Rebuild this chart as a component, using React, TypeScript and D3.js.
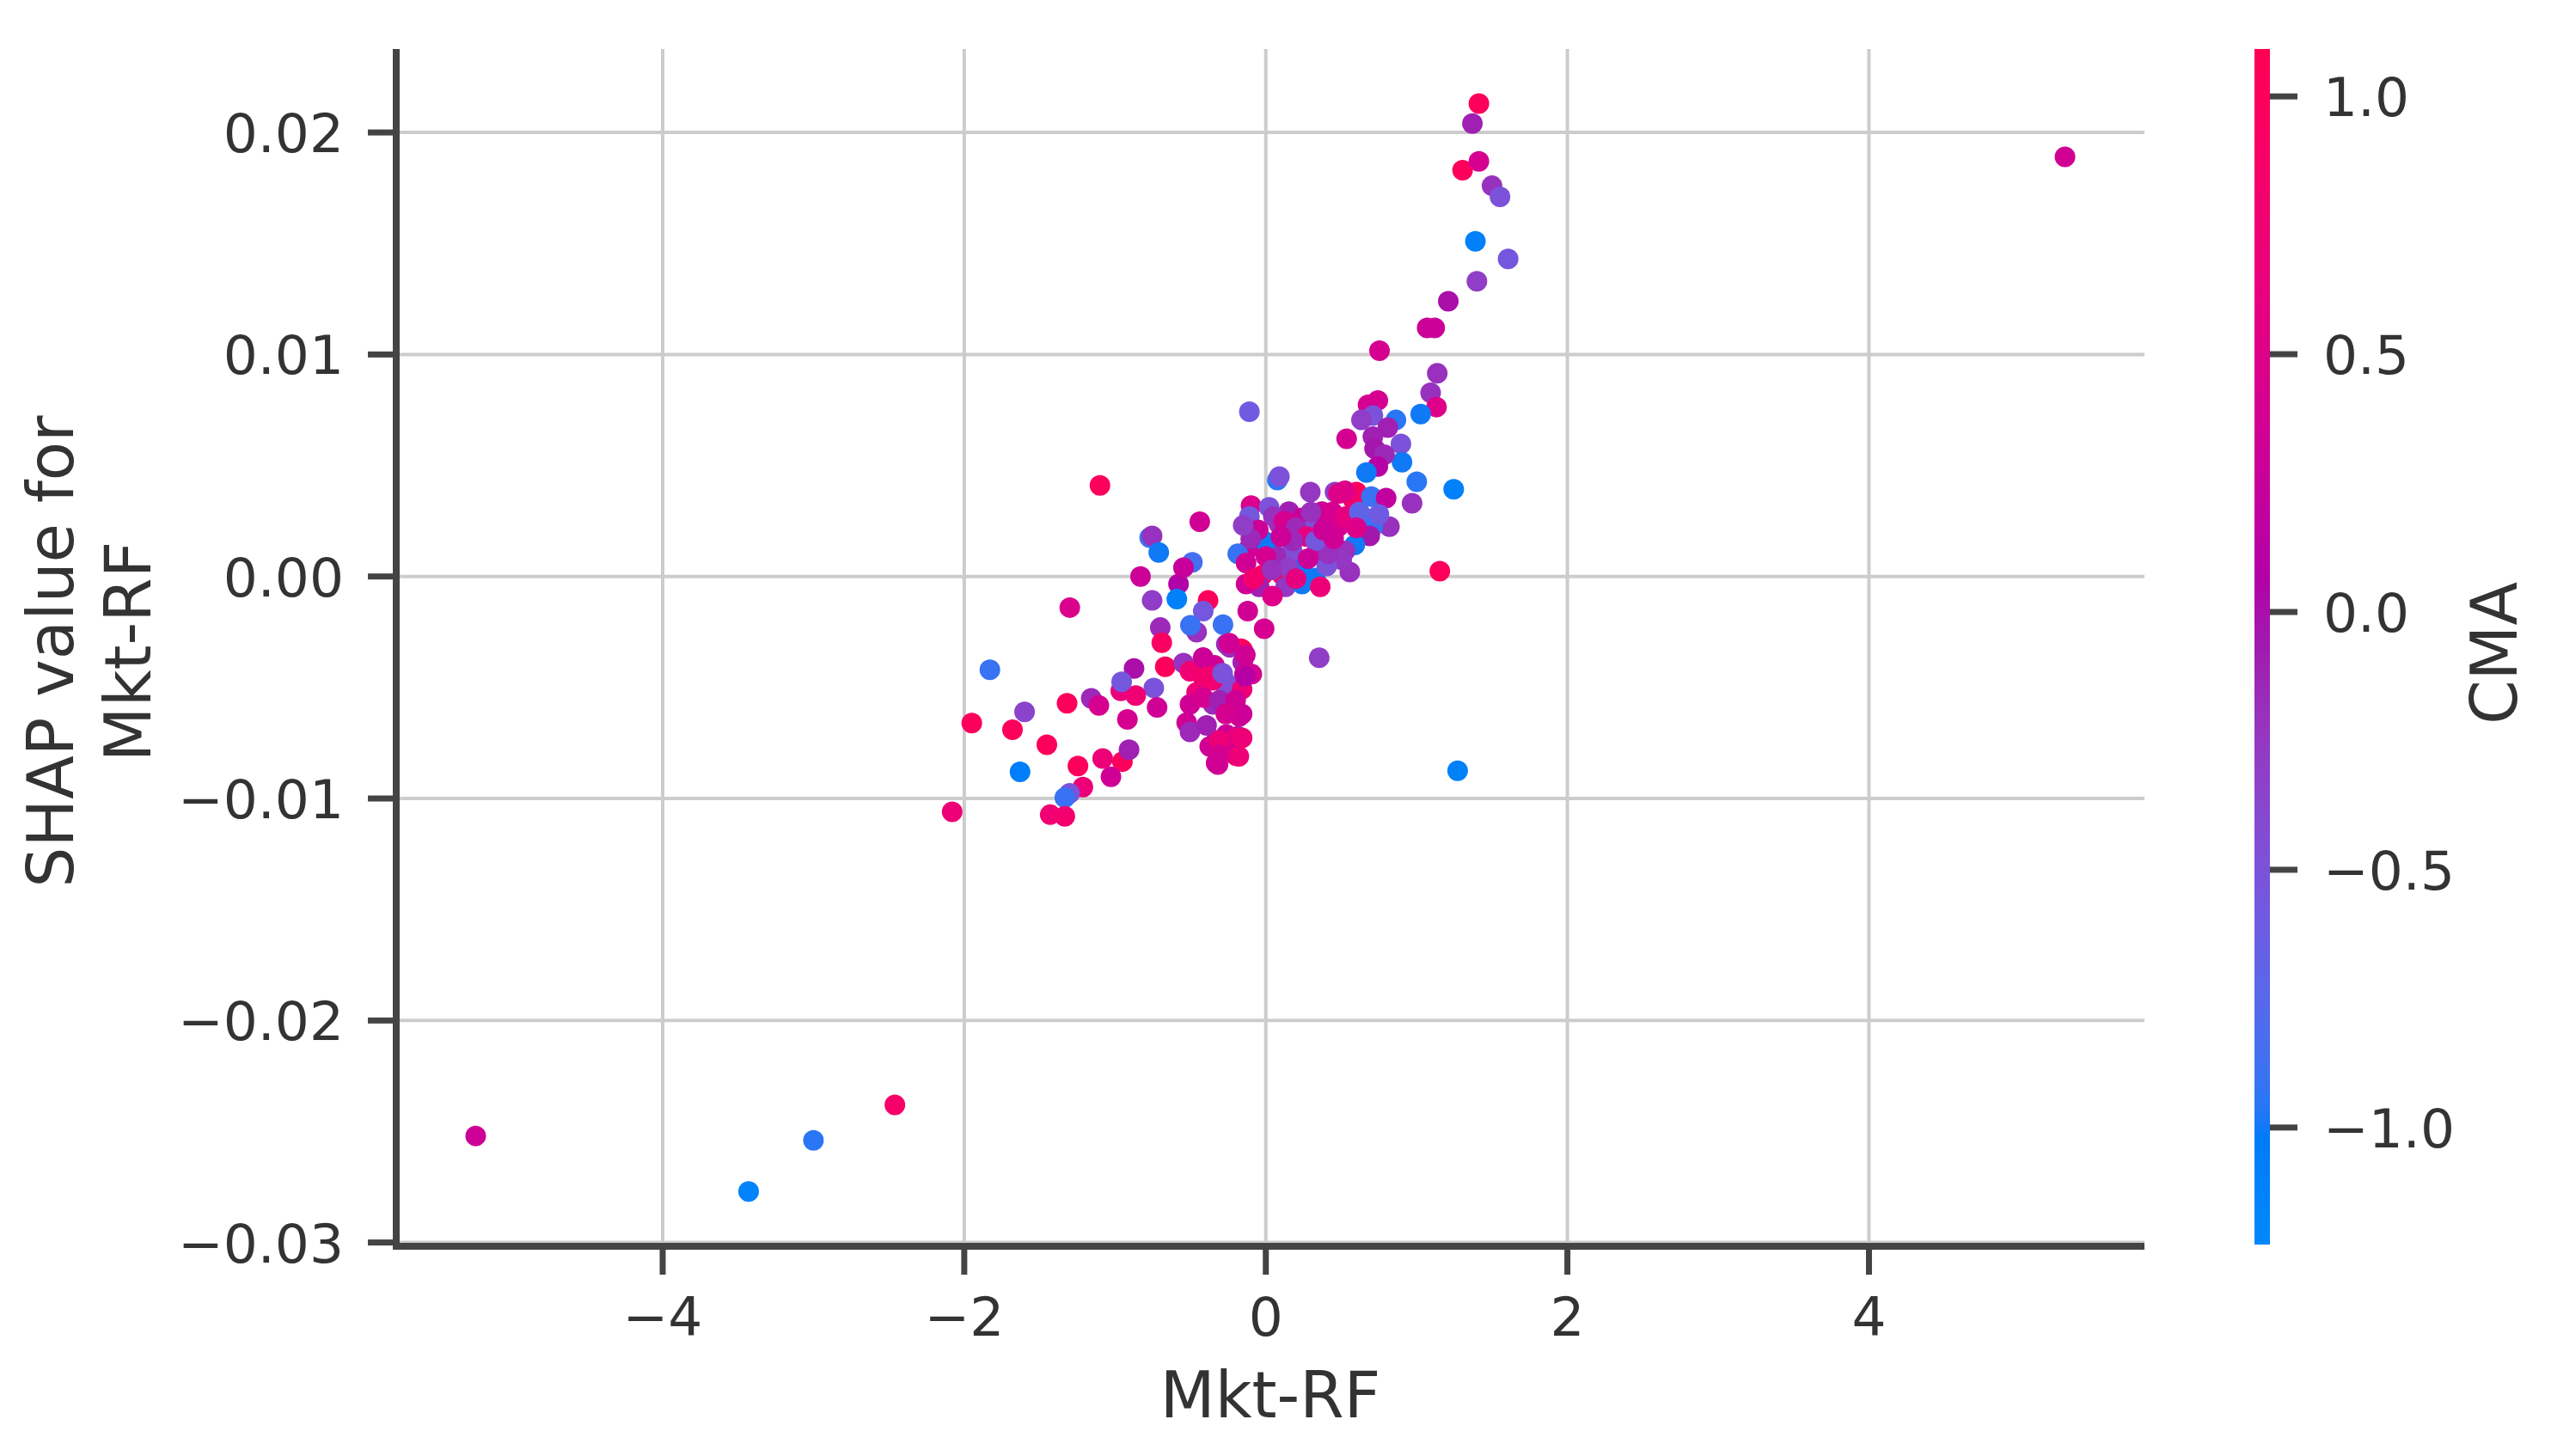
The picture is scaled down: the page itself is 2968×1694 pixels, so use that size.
import React from 'react';
import * as d3 from 'd3';

// ---- data ----
const mktRF: number[] = [
  // outliers / left tail
  -5.24, -3.43, -3.0, -2.46, 5.3, -2.08, -1.95, -1.83, -1.68, -1.63, -1.6, -1.3, -1.1,
  // upper-right arm
  1.413, 1.37, 1.305, 1.413, 1.5, 1.553, 1.39, 1.607, 1.4, 1.21, 1.07, 1.12, 0.754, 1.137, 1.093, 1.132,
  1.027, 0.743, 0.678, 0.71, 0.634, 0.863, 0.809, 0.536, 0.71, 0.896, 0.721, 0.903, 0.787, 0.743, 0.667,
  1.001, 1.246, -0.109, 0.97, 1.154, 1.272, 0.354,
  // upper cluster
  0.0765, 0.09, 0.295, 0.459, 0.601, 0.579, 0.7, 0.798, 0.481, 0.525, -0.098, -0.109, 0.022, 0.153, 0.087,
  0.24, 0.328, 0.372, 0.481, 0.656, 0.82, 0.71, 0.689, 0.59, 0.525, 0.557, 0.503, 0.339, 0.24, 0.328,
  0.404, 0.415, 0.175, 0.066, -0.109, -0.186, 0.0, -0.131, -0.022, 0.109, -0.044, 0.131, 0.044, 0.24,
  0.361, -0.131, 0.05, 0.12, 0.2, 0.27, 0.18, 0.1, 0.33, 0.45, 0.44, 0.53, 0.62, -0.05, -0.1, 0.0, 0.15,
  0.28, 0.2, 0.04, -0.08, 0.3, 0.38, 0.6, 0.75, -0.15,
  // left-middle
  -0.77, -0.754, -0.71, -0.487, -0.831, -0.579, -0.754, -0.59, -0.546, -0.383, -0.415, -0.12, -0.011,
  -0.284, -0.7, -0.69, -0.459, -0.5, -0.164, -0.262, -0.874, -0.667, -0.743, -1.158, -0.962, -0.863,
  -0.918, -0.721, -0.525, -0.328, -0.186, -0.197, -0.317, -1.082, -0.951, -0.907, -1.027, -1.246,
  -1.213, -0.956, -1.107, -1.318, -1.301, -1.333, -1.43, -1.333, -1.452, -0.546, -0.503, -0.438,
  // dense column
  -0.503, -0.415, -0.284, -0.153, -0.153, -0.24, -0.142, -0.262, -0.35, -0.175, -0.459, -0.503, -0.393,
  -0.262, -0.197, -0.372, -0.262, -0.341, -0.351, -0.222, -0.157, -0.416, -0.308, -0.2, -0.157, -0.265,
  -0.308, -0.157, -0.308, -0.179, -0.33, -0.093, -0.136, -0.243, -0.395, -0.416, -0.287, -0.136,
];

const shapValues: number[] = [
  -0.0252, -0.0277, -0.0254, -0.0238, 0.0189, -0.0106, -0.0066, -0.0042, -0.0069, -0.0088, -0.0061, -0.0014, 0.0041,
  0.0213, 0.0204, 0.0183, 0.0187, 0.0176, 0.0171, 0.0151, 0.0143, 0.0133, 0.0124, 0.0112, 0.0112, 0.01017, 0.00915, 0.00827, 0.00763,
  0.00732, 0.00793, 0.00773, 0.00725, 0.00705, 0.00705, 0.00671, 0.0062, 0.0063, 0.00597, 0.00576, 0.00515, 0.00549, 0.00495, 0.00468,
  0.00427, 0.00393, 0.00742, 0.0033, 0.00024, -0.00875, -0.00366,
  0.00434, 0.0045, 0.0038, 0.0038, 0.0038, 0.00346, 0.0036, 0.00353, 0.00373, 0.00386, 0.00319, 0.00271, 0.00312, 0.00292, 0.00237,
  0.00264, 0.00237, 0.00292, 0.00224, 0.00264, 0.00224, 0.00224, 0.00183, 0.00142, 0.00115, 0.0002, 0.00075, 0.00115, 0.00054, -0.00007,
  0.00047, 0.00102, 0.00115, 0.00095, 0.00129, 0.00102, 0.00156, 0.00061, 0.00007, 0.00007, -0.00047, -0.00047, -0.00088, -0.00034,
  -0.00047, -0.00034, 0.0027, 0.0025, 0.0022, 0.0018, 0.0016, 0.0018, 0.0016, 0.0017, 0.0029, 0.0027, 0.0029, 0.0021, 0.0017, 0.0009, 0.0004,
  0.0008, -0.0001, 0.0003, -0.0001, 0.0029, 0.0021, 0.0022, 0.0028, 0.0023,
  0.00175, 0.00183, 0.00108, 0.00064, 0.0, -0.00034, -0.00108, -0.00102, 0.0004, -0.00108, -0.00156, -0.00156, -0.00235,
  -0.00217, -0.0023, -0.00298, -0.00251, -0.0022, -0.00325, -0.00305, -0.00414, -0.00407, -0.00502, -0.00549, -0.00515, -0.00536,
  -0.00644, -0.0059, -0.00658, -0.00739, -0.00719, -0.00807, -0.00847, -0.0082, -0.00834, -0.0078, -0.00902, -0.00854,
  -0.00949, -0.00474, -0.00581, -0.00571, -0.00977, -0.00996, -0.01073, -0.0108, -0.00758, -0.0039, -0.007, 0.00247,
  -0.00427, -0.00454, -0.00454, -0.00386, -0.00332, -0.00319, -0.0044, -0.00522, -0.00576, -0.0063, -0.00522, -0.00576, -0.00671,
  -0.00712, -0.00725, -0.00766, -0.0078, -0.004, -0.00468, -0.00494, -0.00507, -0.00545, -0.00558, -0.00558, -0.0062, -0.0062,
  -0.0074, -0.00727, -0.00803, -0.0081, -0.0084, -0.0044, -0.00353, -0.003, -0.00442, -0.00365, -0.00436, -0.00448,
];

const cmaValues: number[] = [
  0.3, -1.15, -0.95, 0.85, 0.35, 0.7, 1.0, -0.9, 1.0, -1.05, -0.35, 0.45, 1.0,
  1.0, -0.1, 1.0, 0.4, -0.2, -0.5, -1.1, -0.55, -0.3, 0.0, 0.3, 0.3, 0.4, -0.2, -0.2, 0.5,
  -1.0, 0.4, 0.4, -0.5, -0.3, -0.95, -0.1, 0.4, -0.1, -0.5, -0.05, -1.0, -0.15, 0.1, -1.0,
  -0.95, -1.1, -0.6, -0.2, 1.0, -1.1, -0.3,
  -0.95, -0.5, -0.25, -0.3, 1.0, 0.8, -0.9, 0.2, 0.5, 0.5, 0.45, -0.55, -0.5, -0.1, -0.2,
  0.3, -0.5, 0.3, 0.4, -0.9, -0.2, -0.9, -0.05, -1.0, -0.2, -0.2, -0.25, 0.45, -1.05, -1.0,
  -0.5, -0.2, -0.45, -0.15, 0.35, -0.9, -1.0, 0.35, 0.95, 0.95, -0.1, -0.25, 0.5, -1.0,
  0.7, 0.35, -0.2, 0.4, -0.15, 0.6, -0.15, 0.3, -0.55, 0.35, 0.4, 0.6, -0.7, 0.3, -0.15, 0.4, -0.3,
  0.3, 0.6, -0.2, 0.8, -0.2, 0.3, 0.5, -0.6, -0.3,
  -0.9, -0.2, -1.0, -0.85, 0.3, 0.05, -0.3, -1.1, 0.25, 1.0, -0.55, 0.35, 0.4,
  -0.9, -0.15, 0.95, -0.2, -0.9, 1.0, -0.15, 0.0, 1.0, -0.5, -0.15, 0.65, 0.75,
  0.4, 0.35, 0.35, 0.15, -0.15, 0.75, 0.35, 0.7, 1.0, -0.1, 0.35, 1.0,
  0.7, -0.55, 0.4, 1.0, -0.5, -0.9, 0.75, 0.8, 1.0, -0.2, -0.15, 0.35,
  0.75, 0.8, -0.5, -0.1, 1.0, -0.15, 0.35, -0.5, -0.15, 0.35, 0.7, 0.35, -0.1,
  0.3, 0.6, 0.35, 0.4, 0.35, 0.75, -0.45, 0.7, 0.4, -0.1, 0.35, 0.3, 0.4,
  0.7, 0.7, 0.4, 0.7, 0.35, 0.4, 0.35, 0.35, 0.8, 0.3, -0.5, 0.1,
];

const xTicks = [-4, -2, 0, 2, 4];
const yTicks = [0.02, 0.01, 0.0, -0.01, -0.02, -0.03];
const cbTicks = [1.0, 0.5, 0.0, -0.5, -1.0];

const xLabel = 'Mkt-RF';
const yLabelLines = ['SHAP value for', 'Mkt-RF'];
const colorLabel = 'CMA';

// ---- shap red_blue colormap (LCH interpolation) ----
function redBlue(t: number): string {
  const tt = Math.max(0, Math.min(1, t));
  const l = tt < 0.5 ? 54 + (40 - 54) * (tt / 0.5) : 40 + (54 - 40) * ((tt - 0.5) / 0.5);
  const c = 70 + 20 * tt;
  const hRad = 4.6588 + (0.35470565 + 2 * Math.PI - 4.6588) * tt;
  return d3.hcl((hRad * 180) / Math.PI, c, l).formatHex();
}

export default function App() {
  const W = 2968;
  const H = 1694;
  const left = 461;
  const right = 2495;
  const top = 57;
  const bottom = 1450;

  const x = d3.scaleLinear().domain([-5.767, 5.827]).range([left, right]);
  const y = d3.scaleLinear().domain([-0.03017, 0.02376]).range([bottom, top]);

  const vmin = -1.227;
  const vmax = 1.092;
  const cbX = 2623;
  const cbW = 18;
  const cbTop = 57;
  const cbBottom = 1448;
  const cb = d3.scaleLinear().domain([vmin, vmax]).range([cbBottom, cbTop]);
  const norm = d3.scaleLinear().domain([vmin, vmax]).range([0, 1]).clamp(true);

  const fmtY = d3.format('.2f');
  const fmtX = d3.format('d');
  const fmtC = d3.format('.1f');

  const textColor = '#333333';
  const axisColor = '#444444';
  const font = 'DejaVu Sans';
  const tickSize = 63;
  const labelSize = 74;

  const gradStops = d3.range(0, 101).map((i) => i / 100);

  const points = mktRF.map((v, i) => ({ x: v, y: shapValues[i], c: cmaValues[i] }));

  return (
    <svg
      width={W}
      height={H}
      viewBox={`0 0 ${W} ${H}`}
      style={{ position: 'absolute', left: 0, top: 0, background: '#fff' }}
      fontFamily={font}
    >
      <defs>
        <linearGradient id="cbgrad" x1="0" y1="1" x2="0" y2="0">
          {gradStops.map((t) => (
            <stop key={t} offset={`${t * 100}%`} stopColor={redBlue(t)} />
          ))}
        </linearGradient>
      </defs>
      <rect x={0} y={0} width={W} height={H} fill="#ffffff" />

      {/* grid */}
      <g stroke="#cccccc" strokeWidth={4}>
        {xTicks.map((t) => (
          <line key={`gx${t}`} x1={x(t)} x2={x(t)} y1={top} y2={bottom} />
        ))}
        {yTicks.map((t) => (
          <line key={`gy${t}`} x1={left} x2={right} y1={y(t)} y2={y(t)} />
        ))}
      </g>

      {/* dots */}
      <g>
        {points.map((p, i) => (
          <circle key={i} cx={x(p.x)} cy={y(p.y)} r={12} fill={redBlue(norm(p.c))} />
        ))}
      </g>

      {/* spines */}
      <line x1={left} x2={left} y1={top} y2={bottom + 4} stroke={axisColor} strokeWidth={8} />
      <line x1={left - 4} x2={right} y1={bottom} y2={bottom} stroke={axisColor} strokeWidth={8} />

      {/* y ticks */}
      {yTicks.map((t) => (
        <g key={`yt${t}`}>
          <line x1={left - 33} x2={left - 4} y1={y(t)} y2={y(t)} stroke={axisColor} strokeWidth={7} />
          <text
            x={400}
            y={y(t) + tickSize * 0.364}
            textAnchor="end"
            fontSize={tickSize}
            fill={textColor}
          >
            {fmtY(t)}
          </text>
        </g>
      ))}

      {/* x ticks */}
      {xTicks.map((t) => (
        <g key={`xt${t}`}>
          <line x1={x(t)} x2={x(t)} y1={bottom + 4} y2={bottom + 33} stroke={axisColor} strokeWidth={7} />
          <text x={x(t)} y={1554} textAnchor="middle" fontSize={tickSize} fill={textColor}>
            {fmtX(t)}
          </text>
        </g>
      ))}

      {/* axis labels */}
      <text x={(left + right) / 2} y={1649} textAnchor="middle" fontSize={labelSize} fill={textColor}>
        {xLabel}
      </text>
      {yLabelLines.map((line, i) => (
        <text
          key={line}
          transform={`translate(${85 + i * 90}, 758) rotate(-90)`}
          textAnchor="middle"
          fontSize={labelSize}
          fill={textColor}
        >
          {line}
        </text>
      ))}

      {/* colorbar */}
      <rect x={cbX} y={cbTop} width={cbW} height={cbBottom - cbTop} fill="url(#cbgrad)" />
      {cbTicks.map((t) => (
        <g key={`cb${t}`}>
          <line
            x1={cbX + cbW}
            x2={cbX + cbW + 32}
            y1={cb(t)}
            y2={cb(t)}
            stroke={axisColor}
            strokeWidth={7}
          />
          <text x={2703} y={cb(t) + tickSize * 0.364} fontSize={tickSize} fill={textColor}>
            {fmtC(t)}
          </text>
        </g>
      ))}
      <text
        transform={`translate(2928, 760) rotate(-90)`}
        textAnchor="middle"
        fontSize={labelSize}
        fill={textColor}
      >
        {colorLabel}
      </text>
    </svg>
  );
}
